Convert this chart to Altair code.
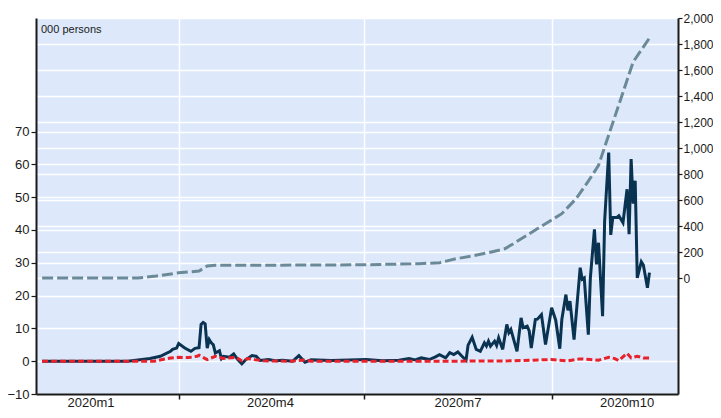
import altair as alt
import pandas as pd

# ---------------- data ----------------
cases_dates = [
    "2020-01-25", "2020-03-07", "2020-03-18", "2020-03-23", "2020-03-28", "2020-03-29", "2020-03-31",
    "2020-04-01", "2020-04-04", "2020-04-07", "2020-04-09", "2020-04-11", "2020-04-12", "2020-04-13",
    "2020-04-14", "2020-04-15", "2020-04-16", "2020-04-17", "2020-04-18", "2020-04-19", "2020-04-21",
    "2020-04-22", "2020-04-23", "2020-04-26", "2020-04-28", "2020-04-30", "2020-05-02", "2020-05-04",
    "2020-05-07", "2020-05-09", "2020-05-11", "2020-05-15", "2020-05-19", "2020-05-22", "2020-05-27",
    "2020-05-30", "2020-06-02", "2020-06-05", "2020-06-15", "2020-07-02", "2020-07-10", "2020-07-18",
    "2020-07-23", "2020-07-26", "2020-07-29", "2020-08-02", "2020-08-05", "2020-08-07", "2020-08-10",
    "2020-08-12", "2020-08-14", "2020-08-16", "2020-08-18", "2020-08-20", "2020-08-21", "2020-08-23",
    "2020-08-25", "2020-08-27", "2020-08-29", "2020-08-30", "2020-08-31", "2020-09-01", "2020-09-03",
    "2020-09-04", "2020-09-05", "2020-09-07", "2020-09-09", "2020-09-10", "2020-09-11", "2020-09-14",
    "2020-09-16", "2020-09-17", "2020-09-19", "2020-09-20", "2020-09-21", "2020-09-23", "2020-09-24",
    "2020-09-26", "2020-09-28", "2020-10-01", "2020-10-03", "2020-10-05", "2020-10-06", "2020-10-08",
    "2020-10-09", "2020-10-10", "2020-10-12", "2020-10-15", "2020-10-16", "2020-10-17", "2020-10-19",
    "2020-10-20", "2020-10-22", "2020-10-23", "2020-10-24", "2020-10-26", "2020-10-27", "2020-10-29",
    "2020-10-30", "2020-10-31", "2020-11-02", "2020-11-03", "2020-11-05", "2020-11-07", "2020-11-08",
    "2020-11-09", "2020-11-10", "2020-11-11", "2020-11-12", "2020-11-14", "2020-11-15", "2020-11-17",
    "2020-11-18",
]
cases_values = [
    0, 0, 0.8, 1.5, 3.0, 3.6, 4.0,
    5.4, 4.0, 3.0, 3.9, 4.1, 11.2, 11.8,
    11.4, 4.0, 6.6, 5.6, 5.0, 2.5, 3.2,
    0.8, 1.5, 1.2, 2.2, 0.5, -0.8, 0.5,
    1.7, 1.5, 0.2, 0.5, 0.1, 0.3, 0.0,
    1.7, -0.3, 0.4, 0.2, 0.5, 0.1, 0.3,
    0.8, 0.4, 1.0, 0.5, 1.3, 2.0, 1.0,
    2.6, 2.0, 2.8, 1.5, 0.3, 4.9, 7.3,
    3.6, 3.0, 5.6, 4.6, 6.1, 4.6, 6.1,
    4.8, 7.1, 3.6, 11.2, 8.7, 9.7, 3.0,
    13.2, 10.2, 10.7, 9.2, 4.0, 12.7, 12.8,
    14.2, 5.1, 16.3, 12.5, 3.8, 12.7, 20.3,
    15.5, 18.3, 6.6, 28.5, 25.0, 25.4, 8.1,
    25.4, 40.2, 29.5, 36.1, 13.7, 42.7, 63.6,
    38.5, 43.8, 43.8, 44.3, 42.2, 52.4, 38.7,
    61.6, 48.0, 55.0, 25.4, 30.3, 29.3, 22.4,
    27.0,
]

deaths_dates = [
    "2020-01-25", "2020-03-20", "2020-03-24", "2020-03-28", "2020-04-01", "2020-04-06",
    "2020-04-10", "2020-04-11", "2020-04-15", "2020-04-19", "2020-04-23", "2020-04-29",
    "2020-05-02", "2020-05-05", "2020-05-08", "2020-05-13", "2020-05-26", "2020-06-02",
    "2020-06-05", "2020-07-15", "2020-08-15", "2020-09-10", "2020-09-26", "2020-10-01",
    "2020-10-09", "2020-10-15", "2020-10-20", "2020-10-24", "2020-10-29", "2020-11-01",
    "2020-11-03", "2020-11-07", "2020-11-09", "2020-11-12", "2020-11-15", "2020-11-18",
]
deaths_values = [
    0, 0, 0.5, 1.0, 1.2, 1.1,
    1.5, 1.8, 0.5, 1.5, 0.8, 1.2,
    0.1, 0.8, 0.5, 0.1, 0.0, 0.4,
    0.0, 0.0, 0.0, 0.1, 0.4, 0.5,
    0.1, 0.7, 0.5, 0.3, 1.2, 0.8,
    0.2, 2.4, 1.0, 1.5, 1.0, 1.0,
]

cum_dates = [
    "2020-01-25", "2020-03-12", "2020-03-21", "2020-04-01", "2020-04-11", "2020-04-15",
    "2020-04-19", "2020-05-15", "2020-06-15", "2020-07-01", "2020-07-28", "2020-08-07",
    "2020-08-15", "2020-08-23", "2020-08-31", "2020-09-08", "2020-09-12", "2020-09-20",
    "2020-09-28", "2020-10-06", "2020-10-13", "2020-10-19", "2020-10-24", "2020-11-10",
    "2020-11-18",
]
cum_values = [
    0, 0, 15, 40, 54, 92,
    98, 99, 100, 102, 110, 118,
    148, 170, 195, 225, 262, 340,
    418, 495, 610, 745, 866, 1662,
    1846,
]

quarter_label_dates = ["2020-02-18", "2020-05-16", "2020-08-16", "2020-11-07"]
quarter_labels = ["2020m1", "2020m4", "2020m7", "2020m10"]
left_ticks = list(range(-10, 80, 10))
right_ticks = list(range(0, 2001, 200))
unit_note = ["000 persons"]

# ---------------- styling ----------------
FONT = "Liberation Sans"
W, H = 642, 376
NAVY = "#0a3352"
RED = "#e8212b"
GRAY = "#6b8a99"
INK = "#1a1a1a"

cases = pd.DataFrame({"date": cases_dates, "value": cases_values})
deaths = pd.DataFrame({"date": deaths_dates, "value": deaths_values})
cum = pd.DataFrame({"date": cum_dates, "value": cum_values})
qlab = pd.DataFrame({"date": quarter_label_dates, "label": quarter_labels})
note = pd.DataFrame({"t": unit_note})


def dt(m, d):
    return alt.DateTime(year=2020, month=m, date=d, utc=True)


x_enc = alt.X(
    "date:T",
    scale=alt.Scale(type="utc", domain=[dt(1, 22), dt(12, 2)]),
    axis=alt.Axis(
        values=[dt(4, 1), dt(7, 1), dt(10, 1)],
        labels=False, title=None, grid=True, gridColor="white", gridWidth=1.5,
        tickSize=5, tickColor=INK, tickWidth=1.5, domainColor=INK, domainWidth=2,
    ),
)

left_scale = alt.Scale(domain=[-10, 104.6], nice=False, zero=False)
right_scale = alt.Scale(domain=[-892, 2000], nice=False, zero=False)

left_axis = alt.Axis(
    orient="left", values=left_ticks, title=None, grid=True, gridColor="white", gridWidth=1.5,
    tickSize=5, tickColor=INK, tickWidth=1.2, domainColor=INK, domainWidth=2,
    labelFont=FONT, labelFontSize=13, labelColor=INK, labelPadding=2,
)
right_axis = alt.Axis(
    orient="right", values=right_ticks, format=",.0f", title=None, grid=True, gridColor="white",
    gridWidth=1.5, tickSize=4, tickColor=INK, tickWidth=1.2, domainColor=INK, domainWidth=2,
    labelFont=FONT, labelFontSize=12, labelColor=INK, labelPadding=1,
)

gray_line = alt.Chart(cum).mark_line(
    color=GRAY, strokeWidth=3, strokeDash=[11, 4]
).encode(x=x_enc, y=alt.Y("value:Q", scale=right_scale, axis=right_axis))

navy_line = alt.Chart(cases).mark_line(
    color=NAVY, strokeWidth=3, strokeJoin="miter"
).encode(x=x_enc, y=alt.Y("value:Q", scale=left_scale, axis=left_axis))

red_line = alt.Chart(deaths).mark_line(
    color=RED, strokeWidth=3, strokeDash=[6, 3]
).encode(x=x_enc, y=alt.Y("value:Q", scale=left_scale, axis=None))

q_text = alt.Chart(qlab).mark_text(
    font=FONT, fontSize=13, color=INK, align="center", baseline="middle"
).encode(x=x_enc, y=alt.value(H + 9), text="label:N")

note_text = alt.Chart(note).mark_text(
    font=FONT, fontSize=11, color=INK, align="left", baseline="middle"
).encode(x=alt.value(5), y=alt.value(12), text="t:N")

chart = (
    alt.layer(gray_line, navy_line, red_line, q_text, note_text)
    .resolve_scale(y="independent")
    .properties(
        width=W, height=H,
        autosize=alt.AutoSizeParams(type="none"),
        padding={"left": 28, "top": 10, "right": 35, "bottom": 16},
        background="white",
    )
    .configure_view(fill="#dde9fb", stroke=None)
)

chart.save("out.html", embed_options={"renderer": "svg", "actions": False})
